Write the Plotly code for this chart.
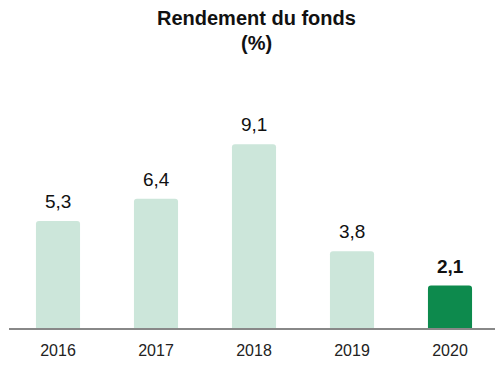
import plotly.graph_objects as go

years = ["2016", "2017", "2018", "2019", "2020"]
values = [5.3, 6.4, 9.1, 3.8, 2.1]
labels = ["5,3", "6,4", "9,1", "3,8", "<b>2,1</b>"]
colors = ["#cce6da", "#cce6da", "#cce6da", "#cce6da", "#0d8a4d"]

W, H = 503, 386
FONT = "Liberation Sans, Arial"
fig = go.Figure(go.Bar(
    x=years, y=values,
    marker=dict(color=colors, line=dict(width=0), cornerradius=3),
    width=0.45,
))
for i, (v, lab) in enumerate(zip(values, labels)):
    fig.add_annotation(x=i, y=v, text=lab, showarrow=False, yanchor="bottom",
                       yshift=7, font=dict(family=FONT, size=19, color="#111111"))

fig.add_annotation(xref="paper", yref="paper", x=0.506, y=1.36, text="<b>Rendement du fonds</b>",
                   showarrow=False, yanchor="middle",
                   font=dict(family=FONT, size=20, color="#111111"))
fig.add_annotation(xref="paper", yref="paper", x=0.506, y=1.25, text="<b>(%)</b>",
                   showarrow=False, yanchor="middle",
                   font=dict(family=FONT, size=20, color="#111111"))

fig.update_layout(
    width=W, height=H,
    margin=dict(l=1, r=12, t=92, b=66),
    paper_bgcolor="white", plot_bgcolor="white",
    showlegend=False,
    xaxis=dict(type="category", range=[-0.5, len(years) - 0.5], showline=True,
               linecolor="#888888", linewidth=1.5,
               showgrid=False, ticks="", ticklabelstandoff=7,
               tickfont=dict(family=FONT, size=16, color="#222222")),
    yaxis=dict(visible=False, range=[0, 11.29], showgrid=False, zeroline=False),
)
fig.write_html("out.html")
